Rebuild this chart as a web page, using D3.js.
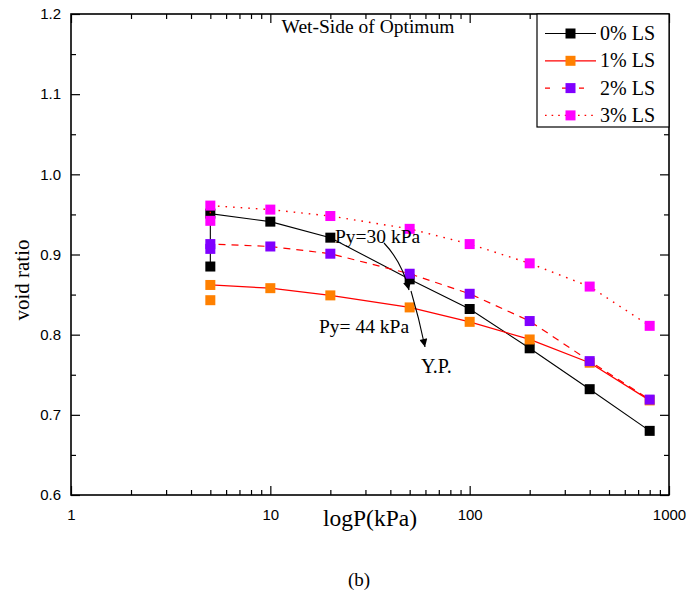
<!DOCTYPE html>
<html>
<head>
<meta charset="utf-8">
<script src="https://cdn.jsdelivr.net/npm/d3@7"></script>
<style>
  body { margin: 0; background: #fff; }
  svg { display: block; }
</style>
</head>
<body>
<svg id="chart" width="694" height="600"></svg>
<script>
// ---------- data ----------
const pressures = [5, 5, 10, 20, 50, 100, 200, 400, 800];
const ls0 = [0.885, 0.951, 0.941, 0.921, 0.869, 0.832, 0.783, 0.732, 0.680];
const ls1 = [0.843, 0.862, 0.858, 0.849, 0.834, 0.816, 0.794, 0.765, 0.718];
const ls2 = [0.907, 0.913, 0.910, 0.901, 0.876, 0.851, 0.817, 0.767, 0.719];
const ls3 = [0.942, 0.961, 0.956, 0.948, 0.932, 0.913, 0.889, 0.860, 0.811];
const seriesNames = ["0% LS", "1% LS", "2% LS", "3% LS"];
const xTicks = [1, 10, 100, 1000];
const yTicks = [0.6, 0.7, 0.8, 0.9, 1.0, 1.1, 1.2];

// ---------- layout ----------
const svg = d3.select("#chart");
const L = 71, R = 669, T = 14, B = 495;
const x = d3.scaleLog().domain([1, 1000]).range([L, R]);
const y = d3.scaleLinear().domain([0.6, 1.2]).range([B, T]);

const serif = "'Liberation Serif','Times New Roman',Times,serif";
const sans = "'Liberation Sans',Arial,Helvetica,sans-serif";

const styles = [
  { line: "#000", fill: "#000", dash: null, legendDash: null, w: 1.1, connectFrom: 0 },
  { line: "#ff0000", fill: "#ff8000", dash: null, legendDash: null, w: 1.3, connectFrom: 1 },
  { line: "#ff0000", fill: "#8000ff", dash: "7,6", legendDash: "5,12", w: 1.2, connectFrom: 0 },
  { line: "#ff0000", fill: "#ff00ff", dash: "1.6,6", legendDash: "1.6,5", w: 1.4, connectFrom: 0 }
];
const allSeries = [ls0, ls1, ls2, ls3];

// ---------- minor ticks ----------
const xMinor = [];
[1, 10, 100].forEach(d => { for (let k = 2; k <= 9; k++) xMinor.push(d * k); });
const yMinor = d3.range(0.65, 1.2, 0.1).map(v => +v.toFixed(2));

// bottom axis
const gB = svg.append("g").attr("transform", `translate(0,${B})`);
gB.call(d3.axisBottom(x).tickValues(xMinor).tickSize(-5).tickFormat(""));
gB.select(".domain").remove();
const gB2 = svg.append("g").attr("transform", `translate(0,${B})`);
gB2.call(d3.axisBottom(x).tickValues(xTicks).tickSize(-9).tickPadding(14)
  .tickFormat(d3.format("d")));
gB2.selectAll("text").attr("font-family", sans).attr("font-size", 15).attr("fill", "#000");
gB2.select(".domain").remove();

// top axis (mirror)
const gT = svg.append("g").attr("transform", `translate(0,${T})`);
gT.call(d3.axisTop(x).tickValues(xMinor).tickSize(-5).tickFormat(""));
gT.select(".domain").remove();
const gT2 = svg.append("g").attr("transform", `translate(0,${T})`);
gT2.call(d3.axisTop(x).tickValues(xTicks).tickSize(-9).tickFormat(""));
gT2.select(".domain").remove();

// left axis
const gL = svg.append("g").attr("transform", `translate(${L},0)`);
gL.call(d3.axisLeft(y).tickValues(yMinor).tickSize(-5).tickFormat(""));
gL.select(".domain").remove();
const gL2 = svg.append("g").attr("transform", `translate(${L},0)`);
gL2.call(d3.axisLeft(y).tickValues(yTicks).tickSize(-9).tickPadding(10)
  .tickFormat(d3.format(".1f")));
gL2.selectAll("text").attr("font-family", sans).attr("font-size", 15).attr("fill", "#000");
gL2.select(".domain").remove();

// right axis
const gR = svg.append("g").attr("transform", `translate(${R},0)`);
gR.call(d3.axisRight(y).tickValues(yMinor).tickSize(-5).tickFormat(""));
gR.select(".domain").remove();
const gR2 = svg.append("g").attr("transform", `translate(${R},0)`);
gR2.call(d3.axisRight(y).tickValues(yTicks).tickSize(-9).tickFormat(""));
gR2.select(".domain").remove();

svg.selectAll(".tick line").attr("stroke", "#000").attr("stroke-width", 1.2);

// frame
svg.append("rect").attr("x", L).attr("y", T).attr("width", R - L).attr("height", B - T)
  .attr("fill", "none").attr("stroke", "#000").attr("stroke-width", 1.6);

// ---------- series ----------
const line = d3.line().x(d => x(d[0])).y(d => y(d[1]));
allSeries.forEach((vals, i) => {
  const st = styles[i];
  const pts = pressures.map((p, j) => [p, vals[j]]);
  const g = svg.append("g");
  g.append("path").datum(pts.slice(st.connectFrom))
    .attr("d", line).attr("fill", "none").attr("stroke", st.line)
    .attr("stroke-width", st.w).attr("stroke-dasharray", st.dash);
  g.selectAll("rect").data(pts).join("rect")
    .attr("x", d => x(d[0]) - 5).attr("y", d => y(d[1]) - 5)
    .attr("width", 10).attr("height", 10).attr("fill", st.fill);
});

// ---------- annotations ----------
const defs = svg.append("defs");
defs.append("marker").attr("id", "ah").attr("viewBox", "0 0 10 10")
  .attr("refX", 10).attr("refY", 5).attr("markerWidth", 16).attr("markerHeight", 8)
  .attr("markerUnits", "userSpaceOnUse").attr("orient", "auto")
  .append("path").attr("d", "M0,0 L10,5 L0,10 Z").attr("fill", "#000");

svg.append("path").attr("d", "M384,243 Q402,262 409,290")
  .attr("fill", "none").attr("stroke", "#000").attr("stroke-width", 1.1)
  .attr("marker-end", "url(#ah)");
svg.append("path").attr("d", "M411,291 Q419,318 425,347")
  .attr("fill", "none").attr("stroke", "#000").attr("stroke-width", 1.1)
  .attr("marker-end", "url(#ah)");

const txt = (s, xx, yy, size, anchor) => svg.append("text").attr("x", xx).attr("y", yy)
  .attr("font-family", serif).attr("font-size", size).attr("text-anchor", anchor || "start")
  .attr("fill", "#000").text(s);

txt("Py=30 kPa", 335, 243, 19.5);
txt("Py= 44 kPa", 319, 333, 19.5);
txt("Y.P.", 421, 373, 20);
txt("Wet-Side of Optimum", 368, 33, 19.5, "middle");
txt("logP(kPa)", 370, 526, 23.5, "middle");
txt("(b)", 359, 586, 19, "middle");
svg.append("text").attr("transform", "translate(29,280) rotate(-90)")
  .attr("font-family", serif).attr("font-size", 21).attr("text-anchor", "middle")
  .attr("fill", "#000").text("void ratio");

// ---------- legend ----------
const lg = svg.append("g");
lg.append("rect").attr("x", 537).attr("y", T).attr("width", R - 537).attr("height", 113)
  .attr("fill", "#fff").attr("stroke", "#000").attr("stroke-width", 1.2);
seriesNames.forEach((name, i) => {
  const st = styles[i];
  const yy = 33.5 + i * 27.3;
  lg.append("line").attr("x1", 545).attr("x2", 596).attr("y1", yy).attr("y2", yy)
    .attr("stroke", st.line).attr("stroke-width", st.w)
    .attr("stroke-dasharray", st.legendDash);
  lg.append("rect").attr("x", 565.5).attr("y", yy - 5).attr("width", 10).attr("height", 10)
    .attr("fill", st.fill);
  lg.append("text").attr("x", 600).attr("y", yy + 6.5).attr("font-family", serif)
    .attr("font-size", 20).attr("fill", "#000").text(name);
});
</script>
</body>
</html>
